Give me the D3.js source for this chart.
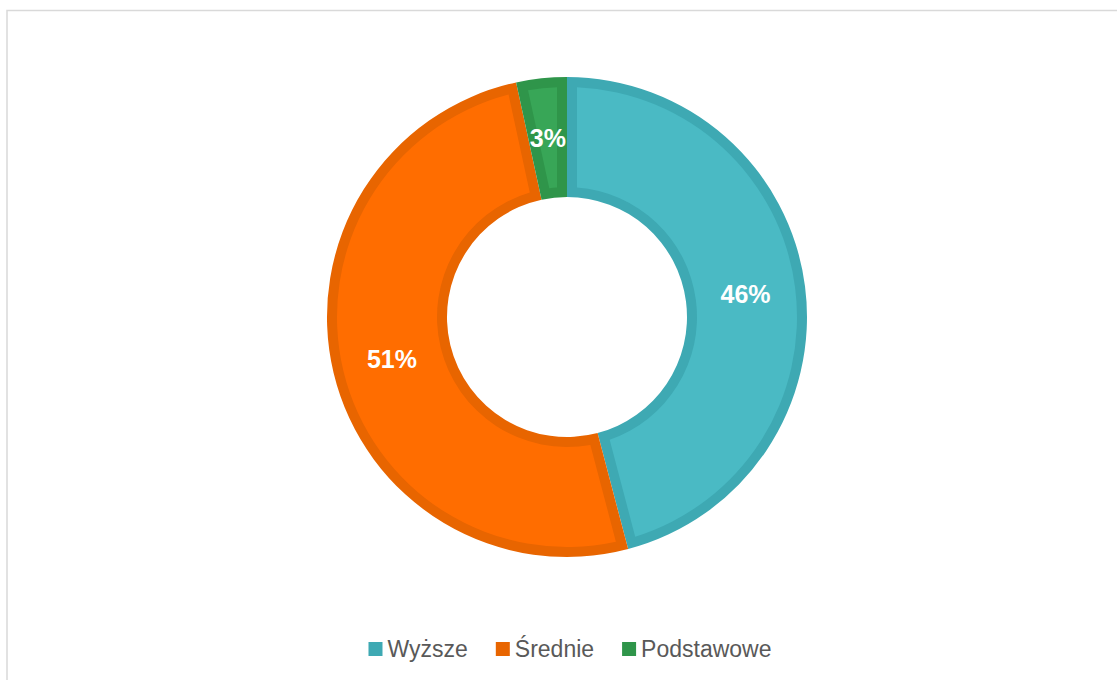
<!DOCTYPE html>
<html>
<head>
<meta charset="utf-8">
<script src="https://cdn.jsdelivr.net/npm/d3@7"></script>
<style>
  body { margin: 0; background: #fff; }
  svg { display: block; font-family: "Liberation Sans", Arial, sans-serif; }
</style>
</head>
<body>
<svg width="1117" height="680"></svg>
<script>
// education level shares (%)
var categories = ["Wyższe", "Średnie", "Podstawowe"];
var values = [45.9, 50.7, 3.4];
var labels = ["46%", "51%", "3%"];

var fillColors = ["#4ABAC4", "#FF6D00", "#38A657"];
var edgeColors = ["#3EA9B3", "#E86500", "#2F954A"];

var svg = d3.select("svg"),
    width = +svg.attr("width"),
    height = +svg.attr("height");

// chart frame (runs off the right and bottom of the picture)
svg.append("rect")
    .attr("x", 7).attr("y", 10.5)
    .attr("width", width + 20).attr("height", height + 20)
    .attr("fill", "none")
    .attr("stroke", "#d9d9d9")
    .attr("stroke-width", 1.5);

var cx = 567, cy = 317, outerR = 240, innerR = 120, band = 10;

var data = categories.map(function(c, i) { return {name: c, value: values[i], label: labels[i], i: i}; });

var pie = d3.pie()
    .sort(null)
    .value(function(d) { return d.value; });

var arcs = pie(data);

var outerArc = d3.arc().innerRadius(innerR).outerRadius(outerR);
// inner lighter part: constant-width pad gives straight inset edges
var innerArc = d3.arc()
    .innerRadius(innerR + band)
    .outerRadius(outerR - band)
    .padRadius(100)
    .padAngle(2 * band / 100);

var g = svg.append("g").attr("transform", "translate(" + cx + "," + cy + ")");

g.selectAll("path.edge")
    .data(arcs)
  .enter().append("path")
    .attr("class", "edge")
    .attr("d", outerArc)
    .attr("fill", function(d) { return edgeColors[d.data.i]; });

g.selectAll("path.fill")
    .data(arcs)
  .enter().append("path")
    .attr("class", "fill")
    .attr("d", innerArc)
    .attr("fill", function(d) { return fillColors[d.data.i]; });

g.selectAll("text.lbl")
    .data(arcs)
  .enter().append("text")
    .attr("class", "lbl")
    .attr("transform", function(d) { return "translate(" + outerArc.centroid(d) + ")"; })
    .attr("text-anchor", "middle")
    .attr("dy", "0.36em")
    .attr("fill", "#fff")
    .attr("font-weight", "bold")
    .attr("font-size", 25)
    .text(function(d) { return d.data.label; });

// legend
var legend = svg.append("g");
var x = 0;
data.forEach(function(d, i) {
  var item = legend.append("g").attr("transform", "translate(" + x + ",0)");
  item.append("rect")
      .attr("x", 0).attr("y", -7)
      .attr("width", 14).attr("height", 14)
      .attr("fill", edgeColors[i]);
  var t = item.append("text")
      .attr("x", 19)
      .attr("dy", "0.36em")
      .attr("fill", "#595959")
      .attr("font-size", 23)
      .text(d.name);
  x += 19 + t.node().getComputedTextLength() + 28;
});
var legendW = x - 28;
legend.attr("transform", "translate(" + (570 - legendW / 2) + ",649)");
</script>
</body>
</html>
